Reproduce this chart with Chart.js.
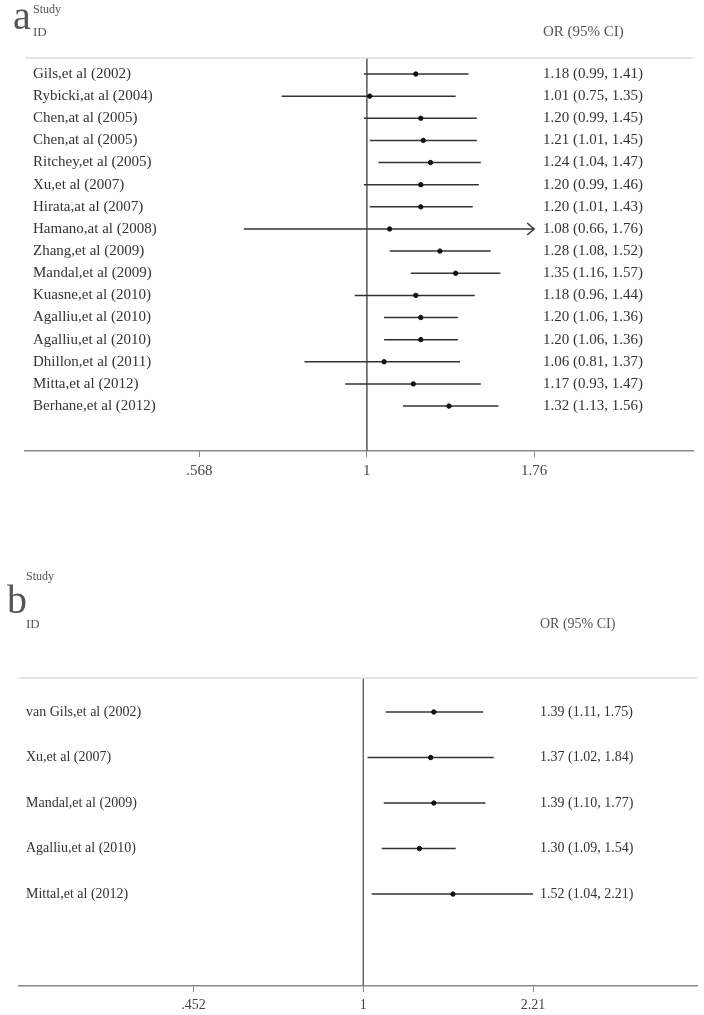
<!DOCTYPE html>
<html>
<head>
<meta charset="utf-8">
<script src="https://cdn.jsdelivr.net/npm/chart.js@4.4.1/dist/chart.umd.min.js"></script>
<style>
  body{margin:0;background:#fff;width:704px;height:1015px;position:relative;overflow:hidden;}
  canvas{position:absolute;left:0;}
  #plotA{top:0;}
  #plotB{top:540px;}
</style>
</head>
<body>
<canvas id="plotA" width="704" height="500"></canvas>
<canvas id="plotB" width="704" height="475"></canvas>
<script>
// ===== DATA: PANEL A =====
const studiesA = ["Gils,et al (2002)","Rybicki,at al (2004)","Chen,at al (2005)","Chen,at al (2005)",
  "Ritchey,et al (2005)","Xu,et al (2007)","Hirata,at al (2007)","Hamano,at al (2008)",
  "Zhang,et al (2009)","Mandal,et al (2009)","Kuasne,et al (2010)","Agalliu,et al (2010)",
  "Agalliu,et al (2010)","Dhillon,et al (2011)","Mitta,et al (2012)","Berhane,et al (2012)"];
const orA = [1.18,1.01,1.20,1.21,1.24,1.20,1.20,1.08,1.28,1.35,1.18,1.20,1.20,1.06,1.17,1.32];
const loA = [0.99,0.75,0.99,1.01,1.04,0.99,1.01,0.66,1.08,1.16,0.96,1.06,1.06,0.81,0.93,1.13];
const hiA = [1.41,1.35,1.45,1.45,1.47,1.46,1.43,1.76,1.52,1.57,1.44,1.36,1.36,1.37,1.47,1.56];
const arrowsA = [7];   // rows whose CI runs off the right end
const ticksA = [0.568, 1, 1.76];
const tickLabelsA = [".568", "1", "1.76"];

// ===== DATA: PANEL B =====
const studiesB = ["van Gils,et al (2002)","Xu,et al (2007)","Mandal,et al (2009)","Agalliu,et al (2010)","Mittal,et al (2012)"];
const orB = [1.39,1.37,1.39,1.30,1.52];
const loB = [1.11,1.02,1.10,1.09,1.04];
const hiB = [1.75,1.84,1.77,1.54,2.21];
const arrowsB = [];
const ticksB = [0.452, 1, 2.21];
const tickLabelsB = [".452", "1", "2.21"];

const SERIF = "'Liberation Serif', 'DejaVu Serif', serif";

function fmt(v){ return v.toFixed(2); }

// ===== TEXT + DECORATION PLUGIN =====
function forestPlugin(p){
  return {
    id: "forestText",
    afterDatasetsDraw(chart){
      const ctx = chart.ctx, area = chart.chartArea;
      const xs = chart.scales.x, ys = chart.scales.y;
      ctx.save();
      // light rule at top of plot
      ctx.strokeStyle = "#dcdcdc"; ctx.lineWidth = 1.5;
      ctx.beginPath(); ctx.moveTo(area.left, area.top); ctx.lineTo(area.right, area.top); ctx.stroke();
      // arrows
      ctx.strokeStyle = "#333"; ctx.lineWidth = 1.5;
      p.arrows.forEach(i=>{
        let x = xs.getPixelForValue(p.hi[i]), y = ys.getPixelForValue(i+1);
        ctx.beginPath(); ctx.moveTo(x-7, y-6); ctx.lineTo(x, y); ctx.lineTo(x-7, y+6); ctx.stroke();
      });
      // panel letter + headers
      ctx.fillStyle = "#555"; ctx.textBaseline = "alphabetic"; ctx.textAlign = "left";
      ctx.font = p.letterSize+"px "+SERIF; ctx.fillText(p.letter, p.letterX, p.letterY);
      ctx.font = "12px "+SERIF; ctx.fillText("Study", p.labelX, p.studyY);
      ctx.font = "13px "+SERIF; ctx.fillText("ID", p.labelX, p.idY);
      ctx.font = p.rowSize+"px "+SERIF; ctx.fillText("OR (95% CI)", p.valX, p.idY);
      // rows
      ctx.fillStyle = "#333"; ctx.textBaseline = "middle";
      p.studies.forEach((s,i)=>{
        let y = ys.getPixelForValue(i+1);
        ctx.fillText(s, p.labelX, y);
        ctx.fillText(fmt(p.or[i])+" ("+fmt(p.lo[i])+", "+fmt(p.hi[i])+")", p.valX, y);
      });
      ctx.restore();
    }
  };
}

// ===== BUILD ONE FOREST PLOT =====
function buildForest(id, p){
  let ctx = document.getElementById(id).getContext("2d");
  let datasets = [];
  datasets.push({data: p.or.map((v,i)=>({x:v, y:i+1})), pointRadius:2.2, pointHoverRadius:2.2,
    backgroundColor:"#111", borderColor:"#111", order:0});
  p.studies.forEach((s,i)=>{
    datasets.push({data:[{x:p.lo[i], y:i+1},{x:p.hi[i], y:i+1}], showLine:true, pointRadius:0,
      borderColor:"#333", borderWidth:1.5, order:1});
  });
  datasets.push({data:[{x:1, y:p.yMin},{x:1, y:p.yMax}], showLine:true, pointRadius:0,
    borderColor:"#666", borderWidth:1, order:2});

  return new Chart(ctx, {
    type: "scatter",
    data: {datasets},
    options: {
      responsive:false, animation:false, devicePixelRatio:1,
      layout:{padding:p.padding},
      plugins:{legend:{display:false}, tooltip:{enabled:false}},
      scales:{
        x:{type:"logarithmic", bounds:"data", min:p.xMin, max:p.xMax,
          afterBuildTicks: s=>{ s.ticks = p.ticks.map(v=>({value:v})); },
          afterFit: s=>{ s.height = p.axisH; },
          ticks:{callback:(v,i)=>p.tickLabels[i], color:"#444", padding:5,
            font:{family:SERIF, size:p.tickSize}, maxRotation:0, autoSkip:false},
          grid:{drawOnChartArea:false, drawTicks:true, tickLength:6, color:"#888"},
          border:{display:true, color:"#888", width:1.5}},
        y:{type:"linear", display:false, reverse:true, min:p.yMin, max:p.yMax}
      }
    },
    plugins:[forestPlugin(p)]
  });
}

// ===== INIT =====
buildForest("plotA", {
  studies:studiesA, or:orA, lo:loA, hi:hiA, arrows:arrowsA, ticks:ticksA, tickLabels:tickLabelsA,
  xMin:0.3151, xMax:3.010, yMin:0.277, yMax:18.03,
  padding:{top:58, left:25, right:11, bottom:9}, axisH:40,
  letter:"a", letterSize:40, letterX:13, letterY:29, studyY:13, idY:36,
  labelX:33, valX:543, rowSize:15, tickSize:15
});
buildForest("plotB", {
  studies:studiesB, or:orB, lo:loB, hi:hiB, arrows:arrowsB, ticks:ticksB, tickLabels:tickLabelsB,
  xMin:0.2001, xMax:4.755, yMin:0.253, yMax:7.02,
  padding:{top:138, left:19, right:7, bottom:0}, axisH:29,
  letter:"b", letterSize:40, letterX:7, letterY:73, studyY:40, idY:88,
  labelX:26, valX:540, rowSize:14, tickSize:14
});
</script>
</body>
</html>
